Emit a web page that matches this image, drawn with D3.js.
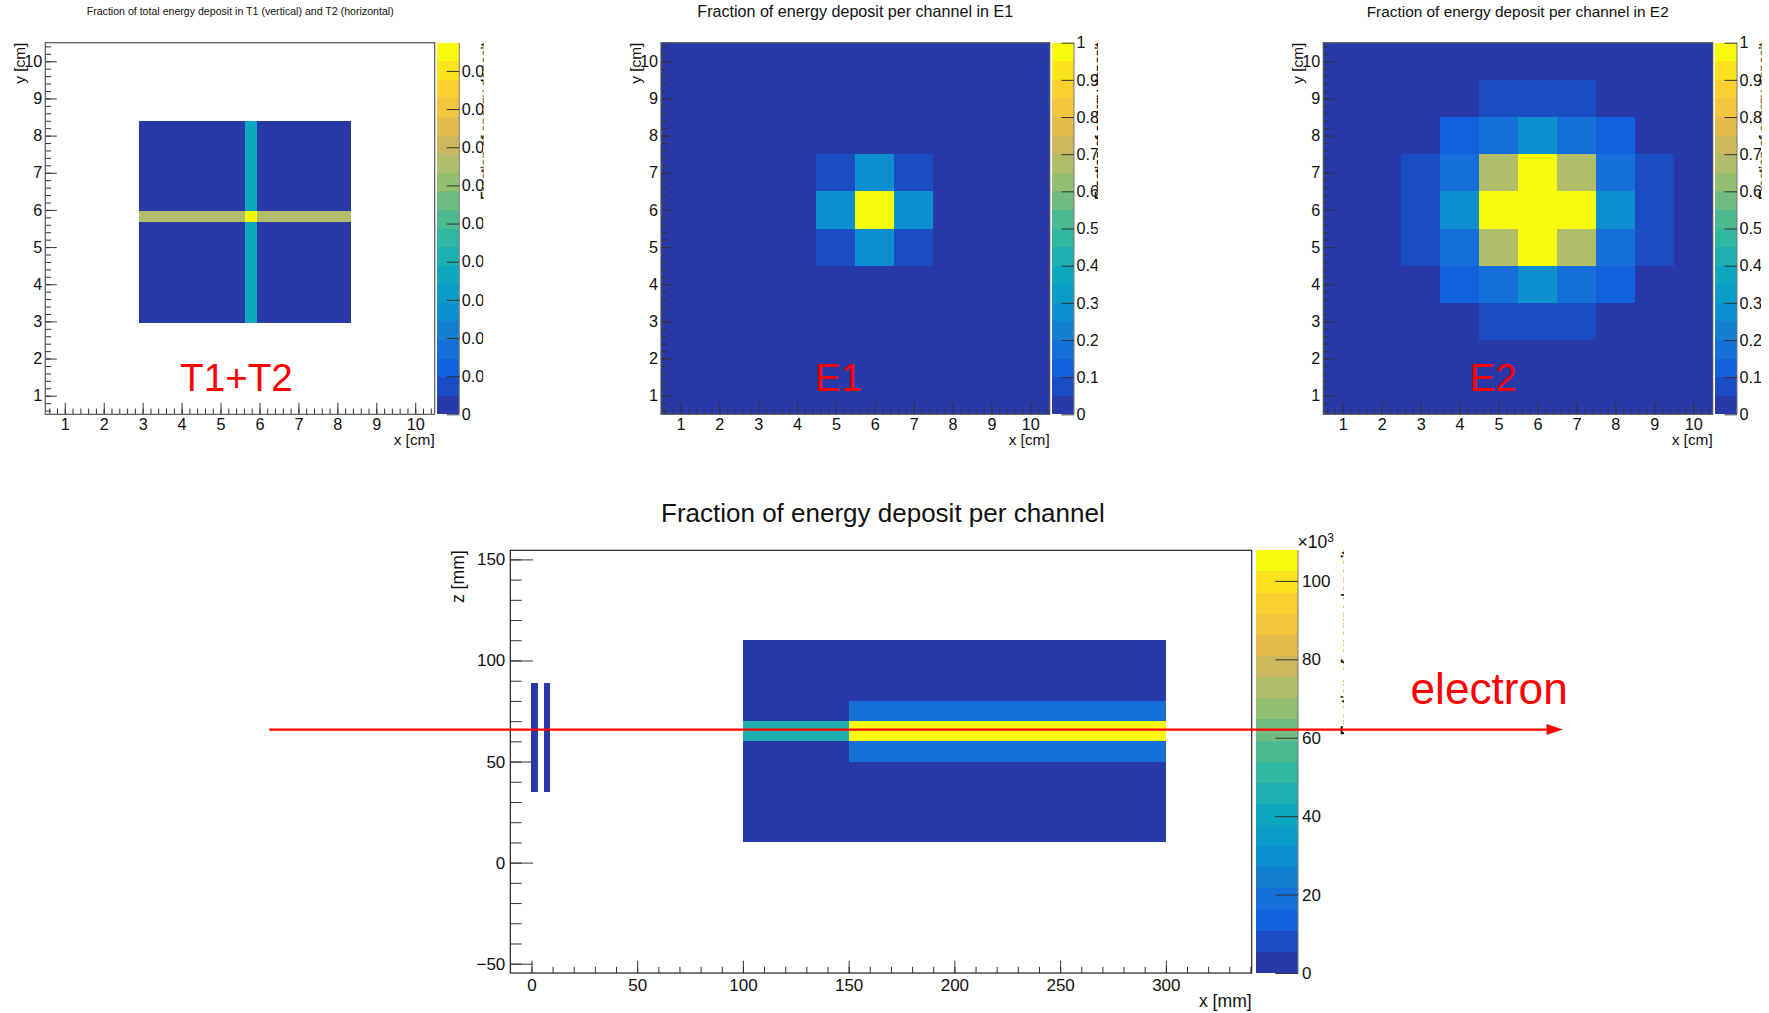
<!DOCTYPE html>
<html>
<head>
<meta charset="utf-8">
<script src="https://cdn.jsdelivr.net/npm/d3@7"></script>
<style>
  body { margin: 0; background: #fff; }
  text { font-family: "Liberation Sans", sans-serif; fill: #111; }
</style>
</head>
<body>
<svg id="chart" width="1769" height="1013"></svg>
<script>
// ROOT kBird palette as it appears in the colour bars (20 levels)
var birdColors = ["#283aa7", "#1a4cc4", "#1160dc", "#1470d8", "#1480d2", "#0e90d0", "#0a9dca", "#0ca8c0",
  "#1eb0b0", "#30b7a0", "#4cba90", "#70bb80", "#94be70", "#b1bd68", "#ccb75c", "#e3bb4c",
  "#f3c53c", "#fcd030", "#fbe31e", "#f9fb0e"];

// T1 + T2 strips
var tXEdges = [2.9, 5.64, 5.93, 8.36];
var tYEdges = [2.95, 5.67, 5.97, 8.4];
var tGrid = [
  [0, 0.037, 0],
  [0.067, 0.097, 0.067],
  [0, 0.037, 0],
];
var tTicks = [0, 0.01, 0.02, 0.03, 0.04, 0.05, 0.06, 0.07, 0.08, 0.09];

// calorimeter channels, rows go from y=1 up to y=10
var channelEdges = [0.5, 1.5, 2.5, 3.5, 4.5, 5.5, 6.5, 7.5, 8.5, 9.5, 10.5];
var e1Grid = [
  [0, 0, 0, 0, 0, 0, 0, 0, 0, 0],
  [0, 0, 0, 0, 0, 0, 0, 0, 0, 0],
  [0, 0, 0, 0, 0, 0, 0, 0, 0, 0],
  [0, 0, 0, 0, 0, 0, 0, 0, 0, 0],
  [0, 0, 0, 0, 0.08, 0.27, 0.08, 0, 0, 0],
  [0, 0, 0, 0, 0.27, 1, 0.27, 0, 0, 0],
  [0, 0, 0, 0, 0.08, 0.27, 0.08, 0, 0, 0],
  [0, 0, 0, 0, 0, 0, 0, 0, 0, 0],
  [0, 0, 0, 0, 0, 0, 0, 0, 0, 0],
  [0, 0, 0, 0, 0, 0, 0, 0, 0, 0],
];
var e2Grid = [
  [0, 0, 0, 0, 0, 0, 0, 0, 0, 0],
  [0, 0, 0, 0, 0, 0, 0, 0, 0, 0],
  [0, 0, 0, 0, 0.08, 0.08, 0.08, 0, 0, 0],
  [0, 0, 0, 0.12, 0.18, 0.27, 0.18, 0.12, 0, 0],
  [0, 0, 0.08, 0.18, 0.67, 1, 0.67, 0.18, 0.08, 0],
  [0, 0, 0.08, 0.27, 1, 1, 1, 0.27, 0.08, 0],
  [0, 0, 0.08, 0.18, 0.67, 1, 0.67, 0.18, 0.08, 0],
  [0, 0, 0, 0.12, 0.18, 0.27, 0.18, 0.12, 0, 0],
  [0, 0, 0, 0, 0.08, 0.08, 0.08, 0, 0, 0],
  [0, 0, 0, 0, 0, 0, 0, 0, 0, 0],
];
var cmTicks = [1, 2, 3, 4, 5, 6, 7, 8, 9, 10];
var fracTicks = [0, 0.1, 0.2, 0.3, 0.4, 0.5, 0.6, 0.7, 0.8, 0.9, 1];

// side view, null means no entry
var sideXEdges = [0, 3, 6, 9, 100, 150, 300];
var sideZEdges = [10, 35, 50, 60, 70, 80, 89, 110];
var sideGrid = [
  [null, null, null, null, 800, 800],
  [800, null, 800, null, 800, 800],
  [800, null, 800, null, 800, 18000],
  [800, null, 800, null, 45000, 107000],
  [800, null, 800, null, 800, 18000],
  [800, null, 800, null, 800, 800],
  [null, null, null, null, 800, 800],
];
var sideXTicks = [0, 50, 100, 150, 200, 250, 300];
var sideZTicks = [-50, 0, 50, 100, 150];
var sideColorTicks = [0, 20000, 40000, 60000, 80000, 100000];

var svg = d3.select("#chart");

function drawGrid(g, x, y, color, xEdges, yEdges, grid) {
  var cells = [];
  grid.forEach(function (row, j) {
    row.forEach(function (v, i) {
      if (v !== null) cells.push({ i: i, j: j, v: v });
    });
  });
  g.append("g")
    .attr("shape-rendering", "crispEdges")
    .selectAll("rect")
    .data(cells)
    .join("rect")
    .attr("x", function (d) { return x(xEdges[d.i]); })
    .attr("y", function (d) { return y(yEdges[d.j + 1]); })
    .attr("width", function (d) { return x(xEdges[d.i + 1]) - x(xEdges[d.i]); })
    .attr("height", function (d) { return y(yEdges[d.j]) - y(yEdges[d.j + 1]); })
    .attr("fill", function (d) { return color(d.v); });
}

function styleAxis(sel, size) {
  sel.select(".domain").remove();
  sel.selectAll("line").attr("stroke", "#333").attr("stroke-width", 1);
  sel.selectAll("text")
    .style("font-family", '"Liberation Sans", sans-serif')
    .style("font-size", size + "px")
    .attr("fill", "#111");
}

function drawPanel(p) {
  var g = svg.append("g");
  var x = d3.scaleLinear().domain(p.xDomain).range([p.left, p.right]);
  var y = d3.scaleLinear().domain(p.yDomain).range([p.bottom, p.top]);
  var color = d3.scaleQuantize().domain([0, p.zMax]).range(birdColors);
  var z = d3.scaleLinear().domain([0, p.zMax]).range([p.bottom, p.top]);

  drawGrid(g, x, y, color, p.xEdges, p.yEdges, p.grid);

  // x axis, minor then major
  g.append("g")
    .attr("transform", "translate(0," + p.bottom + ")")
    .call(d3.axisBottom(x).tickValues(p.xMinor).tickSizeInner(-p.xTick / 2).tickSizeOuter(0).tickFormat(""))
    .call(styleAxis, p.font);
  g.append("g")
    .attr("transform", "translate(0," + p.bottom + ")")
    .call(d3.axisBottom(x).tickValues(p.xTicks).tickSizeInner(-p.xTick).tickSizeOuter(0).tickPadding(p.xPad))
    .call(styleAxis, p.font);

  // y axis
  g.append("g")
    .attr("transform", "translate(" + p.left + ",0)")
    .call(d3.axisLeft(y).tickValues(p.yMinor).tickSizeInner(-p.yTick / 2).tickSizeOuter(0).tickFormat(""))
    .call(styleAxis, p.font);
  g.append("g")
    .attr("transform", "translate(" + p.left + ",0)")
    .call(d3.axisLeft(y).tickValues(p.yTicks).tickSizeInner(-p.yTick).tickSizeOuter(0).tickPadding(p.yPad))
    .call(function (s) { s.selectAll("text").text(function (d) { return String(d).replace("-", "\u2212"); }); })
    .call(styleAxis, p.font);

  g.append("rect")
    .attr("x", p.left)
    .attr("y", p.top)
    .attr("width", p.right - p.left)
    .attr("height", p.bottom - p.top)
    .attr("fill", "none")
    .attr("stroke", p.frame)
    .attr("stroke-width", 1.2);

  // colour bar
  g.append("g")
    .attr("shape-rendering", "crispEdges")
    .selectAll("rect")
    .data(birdColors)
    .join("rect")
    .attr("x", p.barLeft)
    .attr("y", function (c) { return z(color.invertExtent(c)[1]); })
    .attr("width", p.barRight - p.barLeft)
    .attr("height", function (c) { return z(color.invertExtent(c)[0]) - z(color.invertExtent(c)[1]); })
    .attr("fill", function (c) { return c; });
  g.append("line")
    .attr("x1", p.barRight)
    .attr("x2", p.barRight)
    .attr("y1", p.top)
    .attr("y2", p.bottom)
    .attr("stroke", "#777");

  // the bar labels and the z title run off the edge of the pad
  var clipId = "clip-" + p.name;
  svg.append("clipPath")
    .attr("id", clipId)
    .append("rect")
    .attr("x", p.barLeft)
    .attr("y", 0)
    .attr("width", p.clipRight - p.barLeft)
    .attr("height", 1013);
  g.append("g")
    .attr("clip-path", "url(#" + clipId + ")")
    .append("g")
    .attr("transform", "translate(" + p.barRight + ",0)")
    .call(d3.axisRight(z).tickValues(p.zTicks).tickSizeInner(-p.barTick).tickSizeOuter(0).tickPadding(p.barPad).tickFormat(p.zFormat))
    .call(styleAxis, p.font);

  // texts
  g.append("text")
    .attr("x", p.titleX)
    .attr("y", p.titleY)
    .style("font-size", p.titleSize + "px")
    .text(p.title);
  g.append("text")
    .attr("x", p.right)
    .attr("y", p.xTitleY)
    .attr("text-anchor", "end")
    .style("font-size", p.axisFont + "px")
    .text(p.xTitle);
  g.append("text")
    .attr("transform", "translate(" + p.yTitleX + "," + p.top + ") rotate(-90)")
    .attr("text-anchor", "end")
    .style("font-size", p.axisFont + "px")
    .text(p.yTitle);

  var sliver = "sliver-" + p.name;
  svg.append("clipPath")
    .attr("id", sliver)
    .append("rect")
    .attr("x", p.zClipLeft)
    .attr("y", 0)
    .attr("width", p.zClipRight - p.zClipLeft)
    .attr("height", 1013);
  g.append("g")
    .attr("clip-path", "url(#" + sliver + ")")
    .append("text")
    .attr("transform", "translate(" + p.zTitleX + "," + p.top + ") rotate(-90)")
    .attr("text-anchor", "end")
    .style("font-size", p.zTitleSize + "px")
    .style("fill", "#000")
    .style("stroke", "#000")
    .style("stroke-width", 0.4)
    .text("Fraction of energy deposit");

  return { x: x, y: y, g: g };
}

function redLabel(x, y, size, label) {
  svg.append("text")
    .attr("x", x)
    .attr("y", y)
    .style("font-size", size + "px")
    .style("fill", "#fe0000")
    .text(label);
}

var cmMinor = d3.range(0.6, 10.5, 0.2);
var small = {
  xDomain: [0.5, 10.5], yDomain: [0.5, 10.5], top: 42.7, bottom: 414.3,
  xTicks: cmTicks, yTicks: cmTicks, xMinor: cmMinor, yMinor: cmMinor,
  xTick: 11.5, yTick: 11.5, xPad: 4, yPad: 3, font: 16.2, axisFont: 15.4, barTick: 12.5, barPad: 2.5,
  xTitle: "x [cm]", yTitle: "y [cm]", xTitleY: 444.5, titleY: 17, zTitleSize: 13.6, frame: "#555",
};

drawPanel(Object.assign({}, small, {
  name: "t", left: 45.3, right: 434.7, barLeft: 437, barRight: 459.3, clipRight: 483.3,
  xEdges: tXEdges, yEdges: tYEdges, grid: tGrid, zMax: 0.0974, zTicks: tTicks, zFormat: function (d) { return d; },
  title: "Fraction of total energy deposit in T1 (vertical) and T2 (horizontal)", titleX: 86.7, titleY: 15, titleSize: 10.6,
  yTitleX: 25, zTitleX: 489.5, zClipLeft: 470, zClipRight: 483.5,
}));
drawPanel(Object.assign({}, small, {
  name: "e1", left: 661, right: 1049.7, barLeft: 1052, barRight: 1074, clipRight: 1097.7,
  xEdges: channelEdges, yEdges: channelEdges, grid: e1Grid, zMax: 1, zTicks: fracTicks, zFormat: function (d) { return d; },
  title: "Fraction of energy deposit per channel in E1", titleX: 697.3, titleSize: 16.1,
  yTitleX: 640.7, zTitleX: 1104, zClipLeft: 1088, zClipRight: 1098,
}));
drawPanel(Object.assign({}, small, {
  name: "e2", left: 1323.3, right: 1712.7, barLeft: 1714.7, barRight: 1737, clipRight: 1761,
  xEdges: channelEdges, yEdges: channelEdges, grid: e2Grid, zMax: 1, zTicks: fracTicks, zFormat: function (d) { return d; },
  title: "Fraction of energy deposit per channel in E2", titleX: 1366.7, titleSize: 15.4,
  yTitleX: 1302.7, zTitleX: 1767.5, zClipLeft: 1751, zClipRight: 1761.5,
}));
var side = drawPanel({
  name: "side", left: 510.3, right: 1251.7, top: 550.3, bottom: 973, barLeft: 1256, barRight: 1298, clipRight: 1345,
  xDomain: [-10, 340.6], yDomain: [-54.6, 154.5],
  xEdges: sideXEdges, yEdges: sideZEdges, grid: sideGrid, zMax: 107800,
  xTicks: sideXTicks, yTicks: sideZTicks, zTicks: sideColorTicks, zFormat: function (d) { return d / 1000; },
  xMinor: d3.range(0, 341, 10), yMinor: d3.range(-50, 151, 10),
  xTick: 12.3, yTick: 22.7, xPad: 6, yPad: 5, font: 17, axisFont: 17.6, barTick: 22.7, barPad: 4,
  xTitle: "x [mm]", yTitle: "z [mm]", xTitleY: 1007, yTitleX: 464.3,
  title: "Fraction of energy deposit per channel", titleX: 661, titleY: 522, titleSize: 26,
  zTitleX: 1352.5, zTitleSize: 16, zClipLeft: 1339, zClipRight: 1344, frame: "#222",
});

// x10^3 multiplier of the side view bar
var mult = svg.append("text").attr("x", 1297.5).attr("y", 548).style("font-size", "17.5px").text("\u00d710");
mult.append("tspan").attr("dy", -6).style("font-size", "12px").text("3");

// annotations added on top of the plots
redLabel(180, 390.7, 38.7, "T1+T2");
redLabel(815, 390.7, 38.5, "E1");
redLabel(1469.5, 390.7, 38.5, "E2");
redLabel(1410.5, 704.3, 44.2, "electron");

var beamZ = 65.8;
var beamStart = -124;
var beamEnd = 480;
var beamTip = 487.7;
svg.append("line")
  .attr("x1", side.x(beamStart))
  .attr("x2", side.x(beamEnd))
  .attr("y1", side.y(beamZ))
  .attr("y2", side.y(beamZ))
  .attr("stroke", "#fe0000")
  .attr("stroke-width", 2.4);
svg.append("path")
  .attr("d", d3.line()([
    [side.x(beamEnd), side.y(beamZ) - 5.5],
    [side.x(beamTip), side.y(beamZ)],
    [side.x(beamEnd), side.y(beamZ) + 5.5],
  ]) + "Z")
  .attr("fill", "#fe0000");
</script>
</body>
</html>
